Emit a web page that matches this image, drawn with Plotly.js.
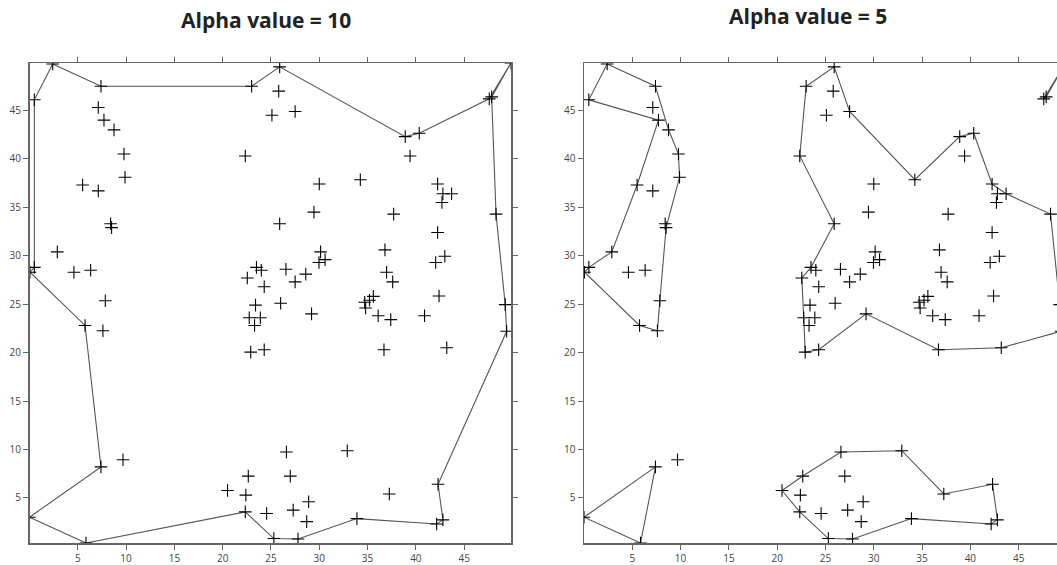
<!DOCTYPE html>
<html>
<head>
<meta charset="utf-8">
<script src="https://cdn.plot.ly/plotly-3.0.1.min.js"></script>
<style>
html,body{margin:0;padding:0;overflow:hidden;background:#fff;}
#chart{width:1080px;height:565px;}
</style>
</head>
<body>
<div id="chart"></div>
<script>
// Sample points (same in both panels)
const ptsX = [2.4,0.5,7.4,23.0,7.12,7.71,8.75,9.78,9.89,5.5,7.12,8.4,8.5,2.88,0.5,0.05,4.6,6.33,22.34,22.55,
  23.5,24.0,24.3,25.9,25.8,25.1,27.5,38.9,40.35,39.4,47.6,47.85,49.85,30.0,34.25,42.25,42.8,43.7,42.7,48.3,
  29.45,37.7,25.9,42.25,30.14,36.8,43.0,42.05,30.6,29.97,26.55,28.6,27.5,36.97,37.6,7.85,5.75,7.6,7.4,9.68,
  0.0,5.85,22.34,22.65,20.5,22.4,24.55,23.4,22.75,23.9,23.3,22.9,24.3,26.0,29.2,34.7,35.2,35.6,34.8,36.1,
  37.4,40.9,42.4,49.25,49.4,43.2,36.7,26.6,32.9,27.0,37.25,42.3,42.8,42.15,33.9,27.8,25.3,28.9,27.3,28.7];
const ptsY = [49.8,46.1,47.5,47.5,45.3,44.0,43.0,40.5,38.1,37.3,36.7,33.3,32.9,30.4,28.8,28.3,28.3,28.5,40.3,27.7,
  28.8,28.5,26.8,49.5,47.0,44.5,44.9,42.3,42.65,40.3,46.2,46.4,49.9,37.4,37.85,37.4,36.4,36.4,35.5,34.3,
  34.5,34.3,33.3,32.4,30.4,30.6,29.95,29.3,29.6,29.3,28.6,28.1,27.3,28.3,27.3,25.35,22.8,22.25,8.2,8.93,
  3.0,0.34,3.55,7.25,5.76,5.28,3.38,24.9,23.6,23.6,22.8,20.05,20.3,25.1,24.0,25.2,25.4,25.8,24.6,23.8,
  23.4,23.8,25.85,24.95,22.2,20.5,20.3,9.73,9.87,7.25,5.4,6.4,2.73,2.3,2.86,0.76,0.8,4.6,3.73,2.55];

// Alpha shape boundary, alpha = 10
const a10X = [2.4,7.4,23.0,25.9,38.9,40.35,47.6,49.85,47.85,48.3,49.25,49.4,42.3,42.8,42.15,33.9,27.8,25.3,22.34,5.85,0.0,7.4,5.75,0.05,0.5,0.5,2.4];
const a10Y = [49.8,47.5,47.5,49.5,42.3,42.65,46.2,49.9,46.4,34.3,24.95,22.2,6.4,2.73,2.3,2.86,0.76,0.8,3.55,0.34,3.0,8.2,22.8,28.3,28.8,46.1,49.8];

// Alpha shape boundaries, alpha = 5 (null separates pieces)
const a5X = [2.4,7.4,8.75,9.78,9.89,8.5,7.85,7.6,5.75,0.05,0.5,2.88,5.5,7.71,0.5,2.4,null,
  23.0,25.9,27.5,34.25,38.9,40.35,42.25,43.7,48.3,49.25,49.4,43.2,36.7,29.2,24.3,22.9,22.75,22.55,23.5,25.9,22.34,23.0,null,
  47.6,49.85,47.85,47.6,null,
  0.0,7.4,5.85,0.0,null,
  20.5,22.65,26.6,32.9,37.25,42.3,42.8,42.15,33.9,27.8,25.3,22.34,20.5];
const a5Y = [49.8,47.5,43.0,40.5,38.1,32.9,25.35,22.25,22.8,28.3,28.8,30.4,37.3,44.0,46.1,49.8,null,
  47.5,49.5,44.9,37.85,42.3,42.65,37.4,36.4,34.3,24.95,22.2,20.5,20.3,24.0,20.3,20.05,23.6,27.7,28.8,33.3,40.3,47.5,null,
  46.2,49.9,46.4,46.2,null,
  3.0,8.2,0.34,3.0,null,
  5.76,7.25,9.73,9.87,5.4,6.4,2.73,2.3,2.86,0.76,0.8,3.55,5.76];

const titles = ["Alpha value = 10", "Alpha value = 5"];
const tickVals = [5,10,15,20,25,30,35,40,45];

const W = 1080, H = 565;
const lineStyle = {color:'rgb(85,85,85)', width:1.1};
const markerStyle = {symbol:'cross-thin-open', size:9, color:'black', line:{color:'black', width:1.1}};

const traces = [
  {x:a10X, y:a10Y, mode:'lines', line:lineStyle, xaxis:'x', yaxis:'y', hoverinfo:'skip'},
  {x:ptsX, y:ptsY, mode:'markers', marker:markerStyle, xaxis:'x', yaxis:'y'},
  {x:a5X, y:a5Y, mode:'lines', line:lineStyle, connectgaps:false, xaxis:'x2', yaxis:'y2', hoverinfo:'skip'},
  {x:ptsX, y:ptsY, mode:'markers', marker:markerStyle, xaxis:'x2', yaxis:'y2'}
];

function ax(domain, anchor, range){
  return {
    domain: domain, anchor: anchor, range: range,
    showline:true, linecolor:'#666', linewidth:1.5, mirror:'ticks',
    ticks:'outside', ticklen:5, tickwidth:1, tickcolor:'#666',
    tickvals: tickVals, ticktext: tickVals.map(String),
    showgrid:false, zeroline:false,
    tickfont:{family:'"Open Sans", sans-serif', size:10, color:'#444'}
  };
}
const yDom = [22/H, 502/H];
const layout = {
  width:W, height:H, showlegend:false,
  margin:{l:0,r:0,t:0,b:0},
  paper_bgcolor:'#fff', plot_bgcolor:'#fff',
  xaxis: ax([29.5/W, 511/W], 'y', [0, 49.85]),
  yaxis: ax(yDom, 'x', [0.34, 49.9]),
  xaxis2: ax([584/W, 1065.5/W], 'y2', [0, 49.85]),
  yaxis2: ax(yDom, 'x2', [0.34, 49.9]),
  annotations: [
    {text:'<b>'+titles[0]+'</b>', xref:'paper', yref:'paper', x:265.5/W, y:1-20/H, xanchor:'center', yanchor:'middle', showarrow:false,
     font:{family:'"Open Sans", sans-serif', size:21, color:'#222'}},
    {text:'<b>'+titles[1]+'</b>', xref:'paper', yref:'paper', x:807.5/W, y:1-16/H, xanchor:'center', yanchor:'middle', showarrow:false,
     font:{family:'"Open Sans", sans-serif', size:21, color:'#222'}}
  ]
};
Plotly.newPlot('chart', traces, layout, {displayModeBar:false, staticPlot:true});
</script>
</body>
</html>
